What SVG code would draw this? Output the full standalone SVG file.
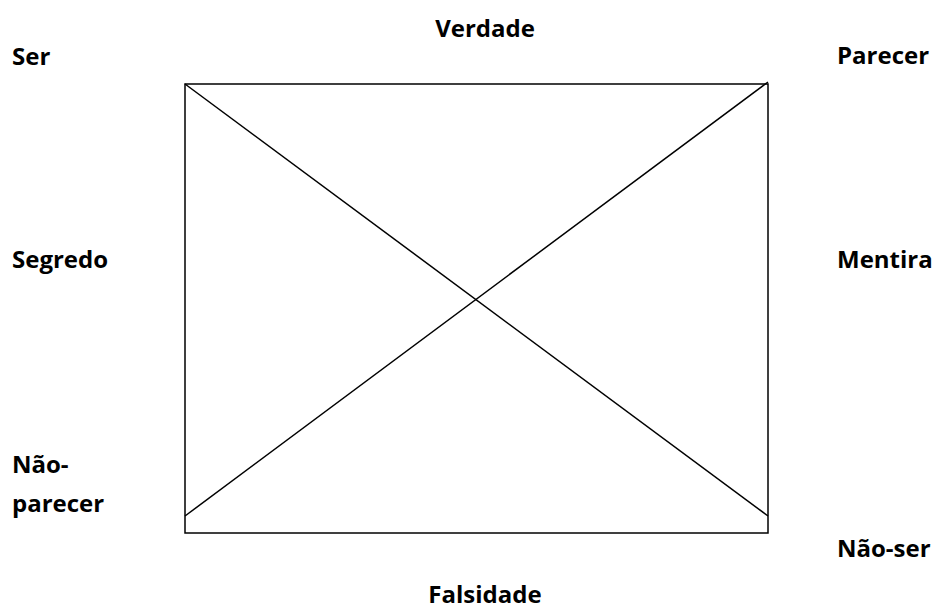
<svg xmlns="http://www.w3.org/2000/svg" width="935" height="610" viewBox="0 0 935 610">
<style>
.lbl{font-family:"Open Sans","Liberation Sans",sans-serif;font-weight:bold;font-size:24px;fill:#000}
.ln{stroke:#000;stroke-width:1.5;fill:none}
</style>
<rect width="935" height="610" fill="#fff"/>
<g id="connectors">
<rect id="box" class="ln" x="185" y="84" width="583" height="449"/>
<line class="ln" x1="185" y1="84" x2="768" y2="516"/>
<line class="ln" x1="185" y1="516" x2="768" y2="82"/>
</g>
<g id="ser"><text class="lbl" x="12" y="65">Ser</text></g>
<g id="verdade"><text class="lbl" x="485" y="37" text-anchor="middle">Verdade</text></g>
<g id="parecer"><text class="lbl" x="837" y="64">Parecer</text></g>
<g id="segredo"><text class="lbl" x="12" y="268">Segredo</text></g>
<g id="mentira"><text class="lbl" x="837" y="268">Mentira</text></g>
<g id="nao-parecer"><text class="lbl" x="12" y="473">Não-</text><text class="lbl" x="12" y="512">parecer</text></g>
<g id="nao-ser"><text class="lbl" x="837" y="557">Não-ser</text></g>
<g id="falsidade"><text class="lbl" x="485" y="603" text-anchor="middle">Falsidade</text></g>
</svg>
